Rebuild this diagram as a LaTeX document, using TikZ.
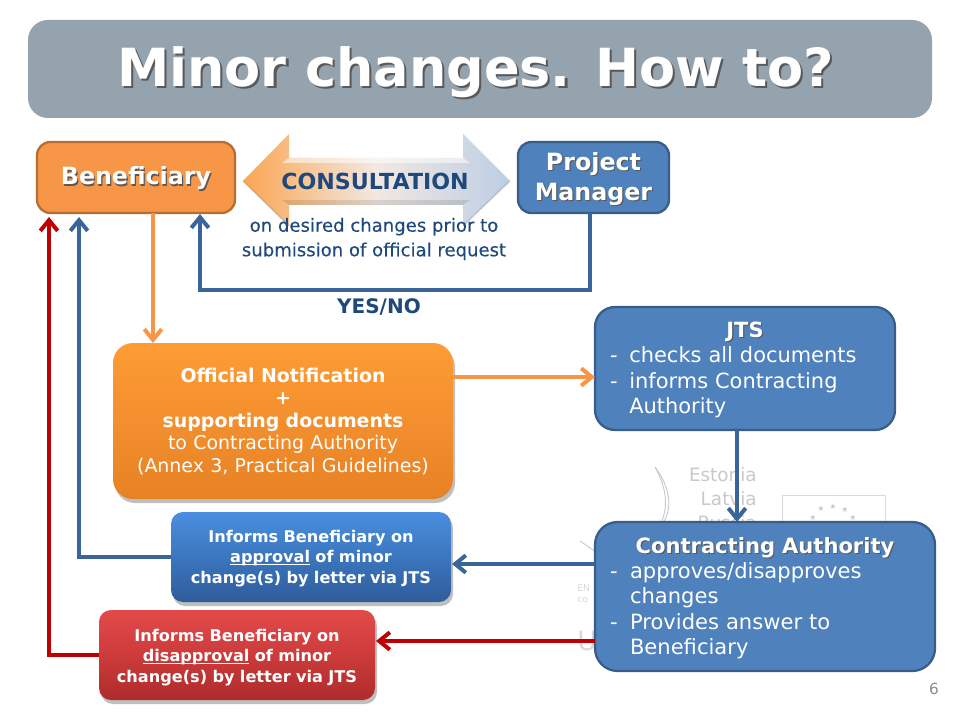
\documentclass[tikz,border=0pt]{standalone}
\usepackage{fontspec}
\setmainfont{DejaVu Sans}
\newfontfamily\semi[FakeBold=0.25]{DejaVu Sans}
\usetikzlibrary{arrows.meta}
\definecolor{titlegrey}{HTML}{95A3AE}
\definecolor{orangefill}{HTML}{F79646}
\definecolor{orangeline}{HTML}{B66D31}
\definecolor{bluefill}{HTML}{4F81BD}
\definecolor{blueline}{HTML}{385D8A}
\definecolor{conn}{HTML}{3A6599}
\definecolor{darkred}{HTML}{C00000}
\definecolor{navy}{HTML}{1F497D}
\definecolor{logo}{HTML}{C9C9C9}
\definecolor{noteT}{HTML}{FD9C34}
\definecolor{noteM}{HTML}{F38F2E}
\definecolor{noteB}{HTML}{E68223}
\definecolor{apprT}{HTML}{4A8FDF}
\definecolor{apprM}{HTML}{3B76BE}
\definecolor{apprB}{HTML}{2F5C9A}
\definecolor{disaT}{HTML}{E34A4A}
\definecolor{disaM}{HTML}{CC3B3B}
\definecolor{disaB}{HTML}{AE2C2C}
\definecolor{arrowL}{HTML}{FBA552}
\definecolor{arrowM}{HTML}{F3E8E2}
\definecolor{arrowR}{HTML}{BCCEE4}
\newcommand\shd[2][0.9pt]{\leavevmode\makebox[0pt][l]{\kern#1\raisebox{-#1}{\textcolor{black!65}{#2}}}#2}
\newsavebox\ulbox
\newcommand\ulword[1]{\sbox\ulbox{#1}\leavevmode\makebox[0pt][l]{\rule[-1.7pt]{\wd\ulbox}{0.75pt}}\usebox\ulbox}
\tikzset{
  x=0.75pt,y=-0.75pt,
  boxsize/.style 2 args={minimum width=#1*0.75pt,minimum height=#2*0.75pt,inner sep=0pt,align=center},
  flat/.style={draw=#1,line width=1.7pt,text=white},
  glossy/.style={rounded corners=9pt,text=white},
  firstline/.style={text height=0pt,text depth=#1},
  link/.style={line width=3pt,draw=#1,-{Straight Barb[length=8pt,width=13pt,line width=3pt]}},
  soft/.style={fill=black,opacity=0.25,draw=none},
}
\begin{document}
\begin{tikzpicture}
\useasboundingbox (0,0) rectangle (960,720);
\fill[white] (0,0) rectangle (960,720);
% faint logo behind the boxes
\node[text=logo,font=\fontsize{13.8pt}{16pt}\selectfont,anchor=east,inner sep=0pt] (lgE) at (757,475) {Estonia};
\node[text=logo,font=\fontsize{13.8pt}{16pt}\selectfont,anchor=east,inner sep=0pt] (lgL) at (757,499) {Latvia};
\node[text=logo,font=\fontsize{13.8pt}{16pt}\selectfont,anchor=east,inner sep=0pt] (lgR) at (757,523) {Russia};
\draw[logo!70,line width=0.6pt] (782,495) rectangle (885,530);
\foreach \i/\a/\b in {1/821/509,2/833/507,3/845/510,4/813/518,5/853/518}
  \node[text=logo,font=\fontsize{6pt}{7pt}\selectfont,inner sep=0pt] (st\i) at (\a,\b) {★};
\draw[logo,line width=0.7pt] (655,467) .. controls (672,490) and (672,510) .. (662,525);
\draw[logo,line width=0.7pt] (655,467) .. controls (668,490) and (668,510) .. (660,525);
\draw[logo,line width=0.7pt] (580,541) -- (596,552);
\node[text=logo!70,font=\fontsize{7pt}{8pt}\selectfont,anchor=west,inner sep=0pt] (lgN) at (577,588) {EN};
\node[text=logo!70,font=\fontsize{7pt}{8pt}\selectfont,anchor=west,inner sep=0pt] (lgC) at (577,600) {co};
\node[text=logo!70,font=\fontsize{20pt}{22pt}\selectfont,anchor=west,inner sep=0pt] (lgU) at (577,641) {U};
% title
\node[boxsize={904}{98},fill=titlegrey,rounded corners=15pt,text=white,font=\bfseries\fontsize{39.4pt}{48pt}\selectfont] (title) at (480,69) {\kern-6.8pt\raisebox{-12.8pt}[0pt][0pt]{\shd[1.6pt]{Minor changes. How to?}}};
% consultation arrow
\path[left color=arrowL,right color=arrowR,middle color=arrowM]
  (243,181) -- (289,134) -- (289,158) -- (463,158) -- (463,134) -- (510,181) -- (463,226) -- (463,205) -- (289,205) -- (289,226) -- cycle;
\fill[white,opacity=0.55] (289,158) -- (463,158) -- (470,163) -- (282,163) -- cycle;
\fill[black,opacity=0.10] (282,200) -- (470,200) -- (463,205) -- (289,205) -- cycle;
\draw[black,opacity=0.12,line width=1.2pt] (243,181) -- (289,226) (463,226) -- (510,181);
\node[text=navy,font=\bfseries\fontsize{16.6pt}{18pt}\selectfont,inner sep=0pt] (cons) at (375,181) {CONSULTATION};
\node[text=navy,font=\semi\fontsize{13.55pt}{18.4pt}\selectfont,align=center,inner sep=0pt] (desired) at (374,239) {on desired changes prior to\\submission of official request};
% upper boxes
\node[boxsize={198}{71},flat=orangeline,rounded corners=10pt,fill=orangefill,font=\bfseries\fontsize{17.8pt}{20pt}\selectfont] (ben) at (136,177.5) {\raisebox{-5.6pt}[0pt][0pt]{\shd{Beneficiary}}};
\node[boxsize={151}{71},flat=blueline,rounded corners=10pt,fill=bluefill,text width=151*0.75pt,firstline=11.2pt,font=\bfseries\fontsize{17.8pt}{22.5pt}\selectfont] (pm) at (593.5,177.5) {\shd{Project}\\\shd{Manager}};
\node[text=navy,font=\bfseries\fontsize{15pt}{15pt}\selectfont,inner sep=0pt] (yes) at (379,307) {YES/NO};
% glossy boxes
\fill[soft,rounded corners=15pt] (115,347) rectangle (455,503);
\node[boxsize={340}{156},glossy,rounded corners=15pt,top color=noteT,bottom color=noteB,middle color=noteM,text width=340*0.75pt,firstline=58.5pt,font=\fontsize{14.2pt}{16.9pt}\selectfont] (note) at (283,421) {\textbf{Official Notification}\\\textbf{+}\\\textbf{supporting documents}\\to Contracting Authority\\(Annex 3, Practical Guidelines)};
\fill[soft,rounded corners=9pt] (173,516) rectangle (453,606);
\node[boxsize={280}{90},glossy,top color=apprT,bottom color=apprB,middle color=apprM,text width=280*0.75pt,firstline=22.5pt,font=\bfseries\fontsize{12.1pt}{15.4pt}\selectfont] (appr) at (311,557) {Informs Beneficiary on\\\ulword{approval} of minor\\change(s) by letter via JTS};
\fill[soft,rounded corners=9pt] (101,614) rectangle (377,704);
\node[boxsize={276}{90},glossy,top color=disaT,bottom color=disaB,middle color=disaM,text width=276*0.75pt,firstline=21pt,font=\bfseries\fontsize{12.1pt}{15.4pt}\selectfont] (disa) at (237,655) {Informs Beneficiary on\\\ulword{disapproval} of minor\\change(s) by letter via JTS};
% right boxes
\node[boxsize={300}{123},flat=blueline,rounded corners=15pt,fill=bluefill,text width=270*0.75pt,align=left,firstline=46.5pt,font=\fontsize{15.7pt}{19.1pt}\selectfont] (jts) at (745,368.5) {\makebox[\linewidth][c]{\textbf{\shd{JTS}}}\\\makebox[14.5pt][l]{-}checks all documents\\\makebox[14.5pt][l]{-}informs Contracting\\\hspace*{14.5pt}Authority};
\node[boxsize={340}{149},flat=blueline,rounded corners=17pt,fill=bluefill,text width=310*0.75pt,align=left,firstline=65.2pt,font=\fontsize{15.8pt}{19.1pt}\selectfont] (ca) at (765,596.5) {\makebox[\linewidth][c]{\textbf{\shd{Contracting Authority}}}\\\makebox[15pt][l]{-}approves/disapproves\\\hspace*{15pt}changes\\\makebox[15pt][l]{-}Provides answer to\\\hspace*{15pt}Beneficiary};
% connectors
\coordinate (benA) at (49,217);
\coordinate (benB) at (79,217);
\coordinate (benC) at (200,214);
\coordinate (pmOut) at (590,213);
\coordinate (benOut) at (153,213);
\coordinate (noteTop) at (153,343);
\coordinate (noteOut) at (453,377);
\coordinate (jtsIn) at (595,377);
\coordinate (jtsOut) at (737,430);
\coordinate (caIn) at (737,522);
\coordinate (caOutA) at (595,564);
\coordinate (apprIn) at (452,564);
\coordinate (caOutB) at (595,641);
\coordinate (disaIn) at (376,641);
\draw[link=conn] (pmOut) |- (300,290) -| (benC);
\draw[link=orangefill] (benOut) -- (noteTop);
\draw[link=orangefill] (noteOut) -- (jtsIn);
\draw[link=conn] (jtsOut) -- (caIn);
\draw[link=conn] (caOutA) -- (apprIn);
\draw[link=darkred] (caOutB) -- (disaIn);
\draw[link=conn] (appr.west) -| (benB);
\draw[link=darkred] (disa.west) -| (benA);
\node[text=black!45,font=\fontsize{11.5pt}{14pt}\selectfont,inner sep=0pt] (page) at (934,689) {6};
\end{tikzpicture}
\end{document}
